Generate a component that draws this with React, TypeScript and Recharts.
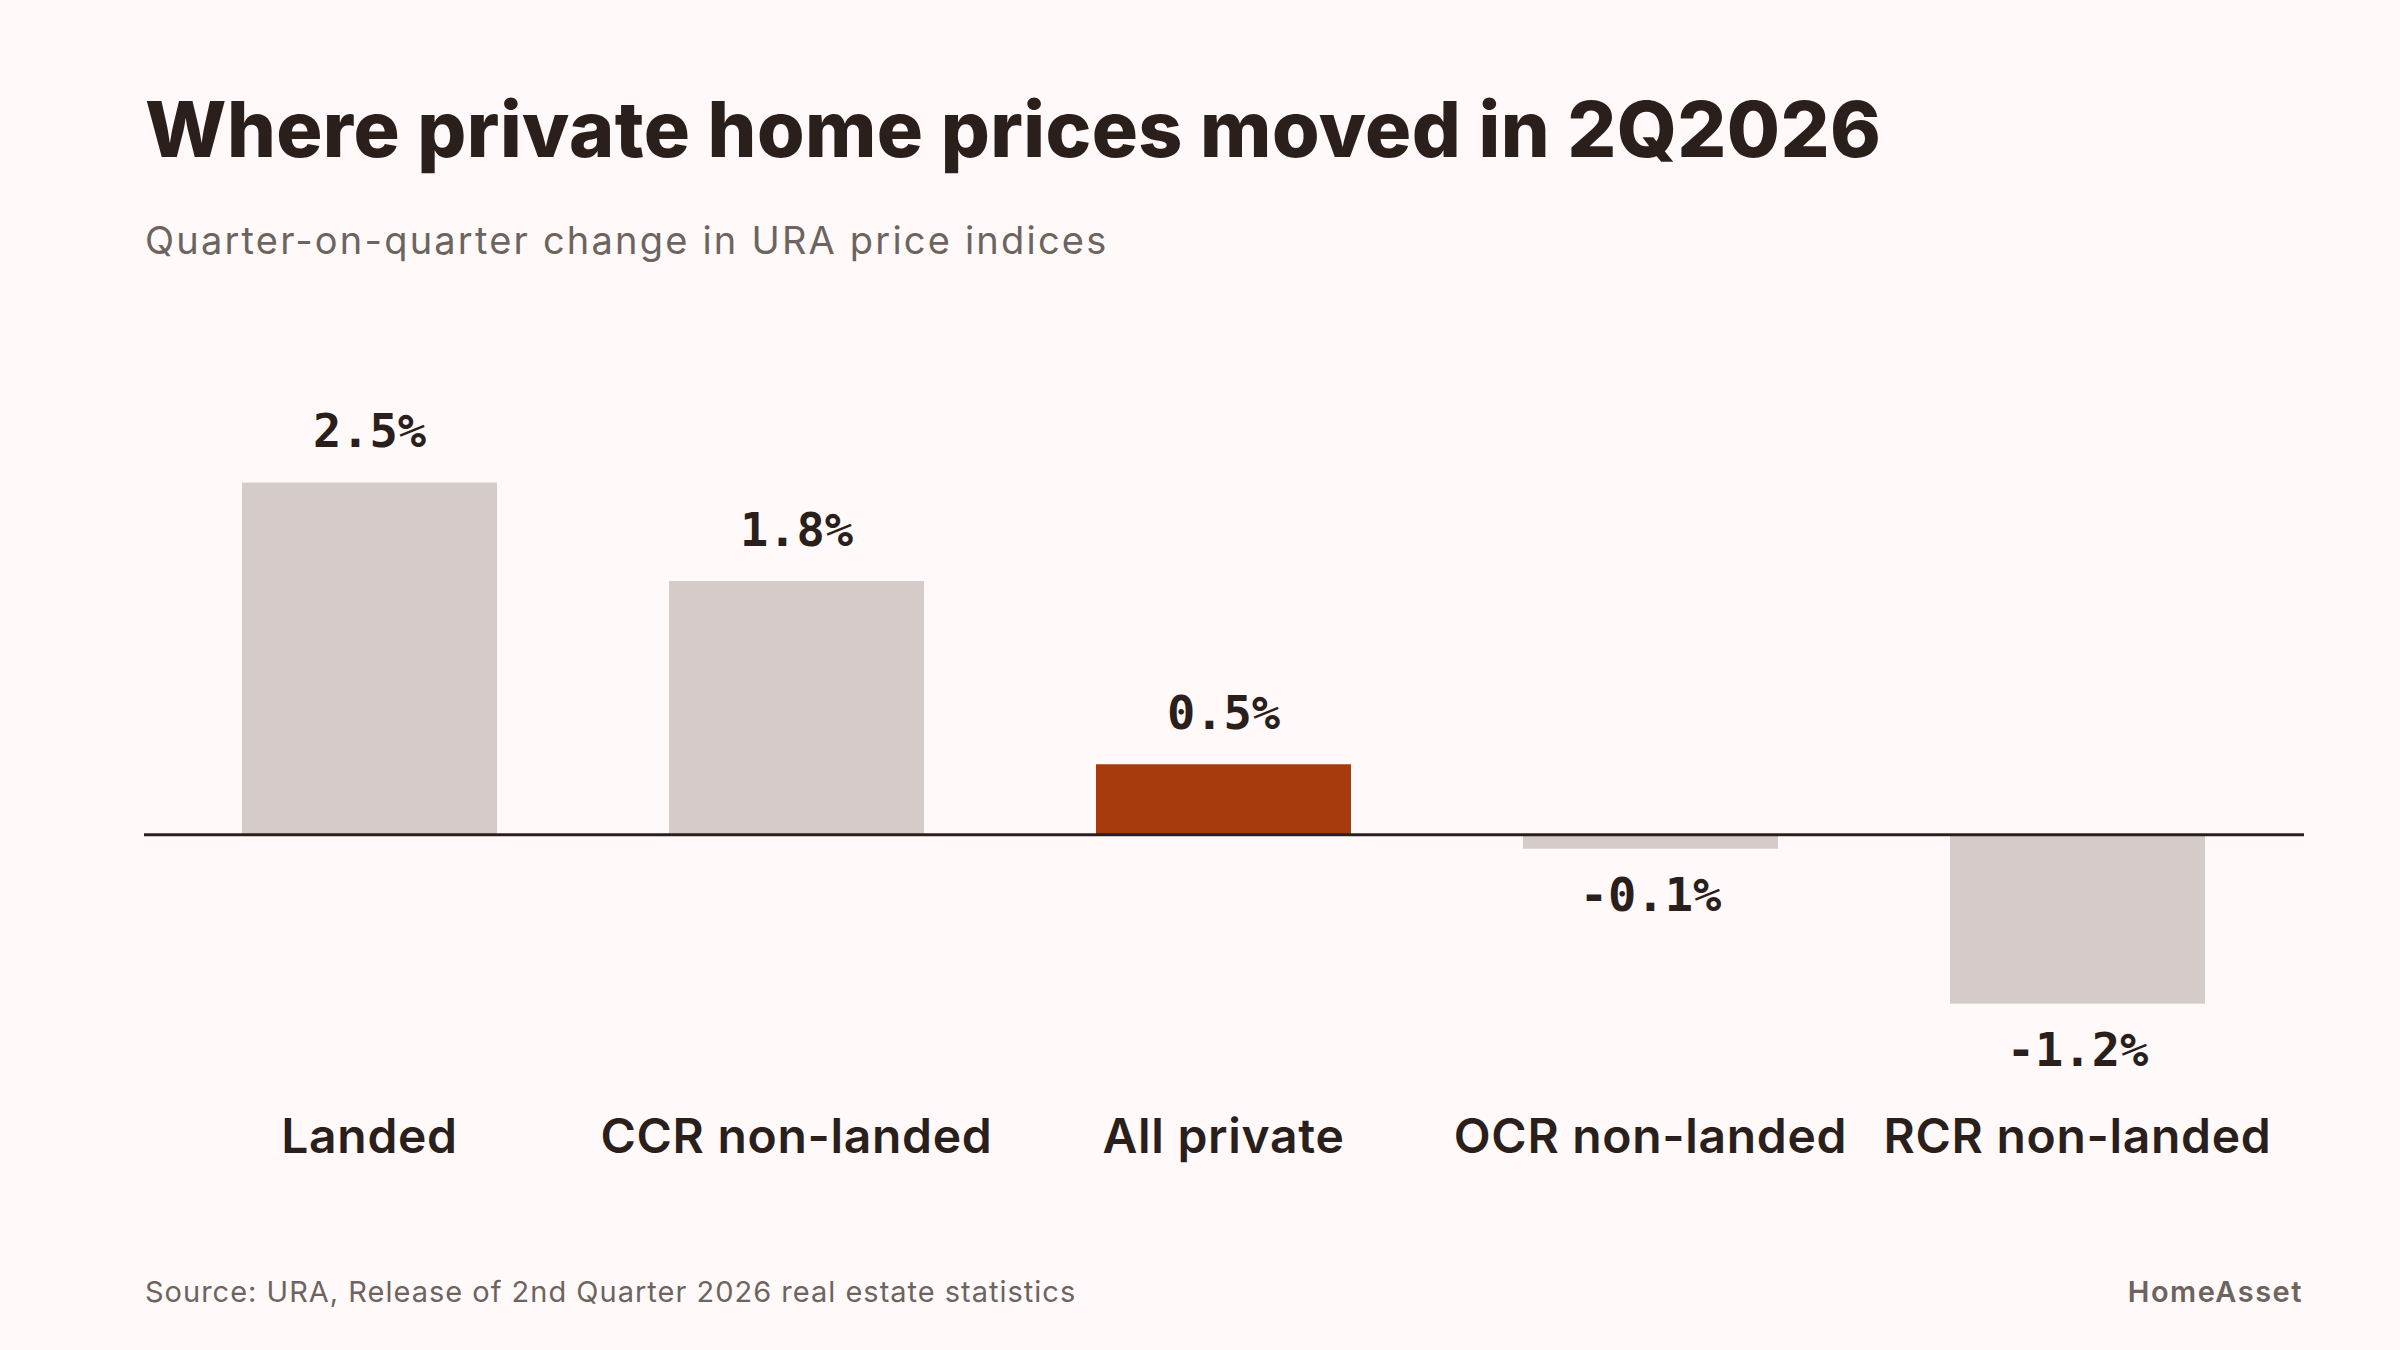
import { BarChart, Bar, XAxis, YAxis, Cell, LabelList, ReferenceLine } from 'recharts';

const categories = ['Landed', 'CCR non-landed', 'All private', 'OCR non-landed', 'RCR non-landed'];
const qoqChange = [2.5, 1.8, 0.5, -0.1, -1.2];
const highlightCategory = 'All private';

const yDomain = [-1.5, 3];

const INK = '#2b1f1c';
const MUTED = '#6d645f';
const BAR_GREY = '#d5ccca';
const ACCENT = '#a63a0c';
const BG = '#fffaf9';

const SANS = 'Inter, "Noto Sans", sans-serif';
const MONO = '"DejaVu Sans Mono", "Liberation Mono", monospace';

const data = categories.map((name, i) => ({ name, value: qoqChange[i] }));

function fmt(v: number) {
  return `${v.toFixed(1)}%`;
}

function CategoryTick({ x, y, payload }: any) {
  return (
    <text
      x={x}
      y={y + 107}
      textAnchor="middle"
      fontFamily={SANS}
      fontWeight={600}
      fontSize={48}
      letterSpacing={0.7}
      fill={INK}
    >
      {payload.value}
    </text>
  );
}

function ValueLabel(props: any) {
  const vb = props.viewBox ?? props;
  const { x, y, width, height } = vb;
  const value = Number(props.value);
  const top = Math.min(y, y + height);
  const bottom = Math.max(y, y + height);
  const ty = value >= 0 ? top - 35 : bottom + 62;
  return (
    <text
      x={x + width / 2}
      y={ty}
      textAnchor="middle"
      fontFamily={MONO}
      fontWeight={700}
      fontSize={47}
      fill={INK}
    >
      {fmt(value)}
    </text>
  );
}

export default function App() {
  return (
    <div
      style={{
        position: 'absolute',
        left: 0,
        top: 0,
        width: 2400,
        height: 1350,
        background: BG,
        overflow: 'hidden',
      }}
    >
      <BarChart
        width={2400}
        height={1350}
        data={data}
        margin={{ top: 412, right: 96, bottom: 204, left: 144 }}
        barSize={255}
      >
        <XAxis
          dataKey="name"
          height={100}
          padding={{ left: 12, right: 13 }}
          axisLine={false}
          tickLine={false}
          tickSize={0}
          tickMargin={0}
          interval={0}
          tick={<CategoryTick />}
        />
        <YAxis hide domain={yDomain} />
        <Bar dataKey="value" isAnimationActive={false}>
          {data.map((d) => (
            <Cell key={d.name} fill={d.name === highlightCategory ? ACCENT : BAR_GREY} />
          ))}
          <LabelList dataKey="value" content={<ValueLabel />} />
        </Bar>
        <ReferenceLine y={0} stroke={INK} strokeWidth={3} ifOverflow="visible" />
      </BarChart>

      {/* headline, subtitle and footer */}
      <svg
        width={2400}
        height={1350}
        style={{ position: 'absolute', left: 0, top: 0, pointerEvents: 'none' }}
      >
        <text x={145} y={157} fontFamily={SANS} fontWeight={800} fontSize={77} fill={INK} letterSpacing={0.4}>
          Where private home prices moved in 2Q2026
        </text>
        <text x={145} y={254} fontFamily={SANS} fontWeight={400} fontSize={38} fill={MUTED} letterSpacing={2.2}>
          Quarter-on-quarter change in URA price indices
        </text>
        <text x={145} y={1302} fontFamily={SANS} fontWeight={400} fontSize={29} fill={MUTED} letterSpacing={1}>
          Source: URA, Release of 2nd Quarter 2026 real estate statistics
        </text>
        <text
          x={2303}
          y={1302}
          textAnchor="end"
          fontFamily={SANS}
          fontWeight={600}
          fontSize={29}
          fill={MUTED}
          letterSpacing={1.5}
        >
          HomeAsset
        </text>
      </svg>
    </div>
  );
}
